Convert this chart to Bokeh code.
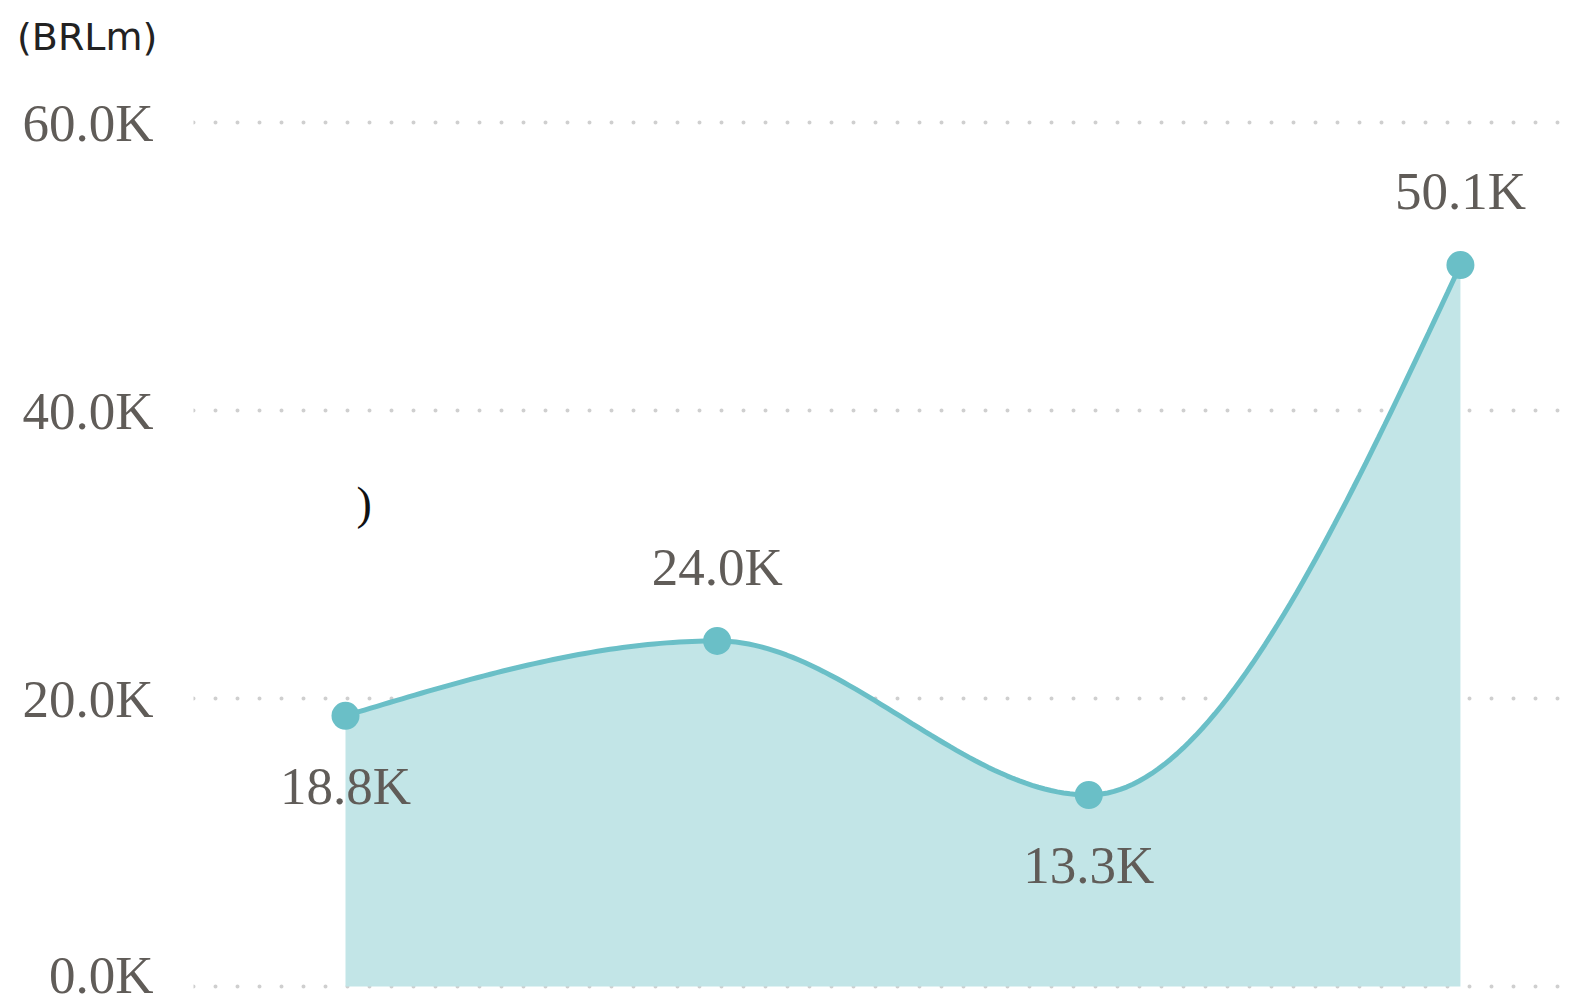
import numpy as np
from bokeh.plotting import figure
from bokeh.models import FixedTicker, Label, Range1d, Div
from bokeh.layouts import column
from bokeh.core.properties import value
from bokeh.embed import file_html
from bokeh.resources import INLINE

# ---- data ----
x_idx = [0, 1, 2, 3]
values_k = [18.8, 24.0, 13.3, 50.1]
point_labels = ["18.8K", "24.0K", "13.3K", "50.1K"]
label_above = [False, True, False, True]
y_ticks = [0, 20, 40, 60]
y_tick_labels = ["0.0K", "20.0K", "40.0K", "60.0K"]
unit_title = "(BRLm)"

LINE = "#6abfc7"
FILL = "#c2e5e7"
TXT = "#605c58"
SERIF = "Liberation Serif"


def monotone_curve(xs, ys, n=60):
    xs = np.asarray(xs, float)
    ys = np.asarray(ys, float)
    m = len(xs)
    t = np.zeros(m)
    for i in range(1, m - 1):
        h0 = xs[i] - xs[i - 1]
        h1 = xs[i + 1] - xs[i]
        s0 = (ys[i] - ys[i - 1]) / h0
        s1 = (ys[i + 1] - ys[i]) / h1
        p = (s0 * h1 + s1 * h0) / (h0 + h1)
        t[i] = (np.sign(s0) + np.sign(s1)) * min(abs(s0), abs(s1), 0.5 * abs(p))
    h = xs[1] - xs[0]
    t[0] = (3 * (ys[1] - ys[0]) / h - t[1]) / 2
    h = xs[-1] - xs[-2]
    t[-1] = (3 * (ys[-1] - ys[-2]) / h - t[-2]) / 2
    cx, cy = [], []
    for i in range(m - 1):
        x0, x1 = xs[i], xs[i + 1]
        y0, y1 = ys[i], ys[i + 1]
        dx = (x1 - x0) / 3
        P = np.array([[x0, y0], [x0 + dx, y0 + dx * t[i]],
                      [x1 - dx, y1 - dx * t[i + 1]], [x1, y1]])
        u = np.linspace(0, 1, n)[:, None]
        B = ((1 - u) ** 3) * P[0] + 3 * ((1 - u) ** 2) * u * P[1] \
            + 3 * (1 - u) * u ** 2 * P[2] + u ** 3 * P[3]
        if i > 0:
            B = B[1:]
        cx.extend(B[:, 0])
        cy.extend(B[:, 1])
    return np.array(cx), np.array(cy)


header = Div(text=unit_title, width=1577, height=80, margin=0,
             styles={"font-family": "DejaVu Sans", "font-size": "38px",
                     "color": "#222222", "padding-top": "15px",
                     "padding-left": "17px", "line-height": "normal",
                     "box-sizing": "border-box"})

PX_PER_K = 14.4
p = figure(width=1577, height=923, output_backend="svg", toolbar_location=None,
           x_range=Range1d(-0.409, 3.315),
           y_range=Range1d(-17 / PX_PER_K, 60.0 + 22 / PX_PER_K),
           min_border_left=193, min_border_right=0, min_border_top=20,
           min_border_bottom=0, margin=0)
p.outline_line_color = None
p.background_fill_color = "white"
p.border_fill_color = "white"

p.xaxis.visible = False
p.xgrid.visible = False

ax = p.yaxis[0]
ax.ticker = FixedTicker(ticks=y_ticks)
ax.major_label_overrides = {t: l for t, l in zip(y_ticks, y_tick_labels)}
ax.axis_line_color = None
ax.major_tick_line_color = None
ax.minor_tick_line_color = None
ax.major_label_text_font = SERIF
ax.major_label_text_font_size = "53px"
ax.major_label_text_color = TXT
ax.major_label_standoff = 34

g = p.ygrid[0]
g.ticker = FixedTicker(ticks=y_ticks)
g.grid_line_color = "#cfcfcf"
g.grid_line_width = 4
g.grid_line_dash = "0 22"
g.grid_line_cap = "round"

cx, cy = monotone_curve(x_idx, values_k)
p.varea(x=cx, y1=np.zeros_like(cy), y2=cy, fill_color=FILL)
p.line(cx, cy, line_color=LINE, line_width=5)
p.scatter(x_idx, values_k, size=28, fill_color=LINE, line_color=None)

xa = [x for x, a in zip(x_idx, label_above) if a]
ya = [v for v, a in zip(values_k, label_above) if a]
la = [l for l, a in zip(point_labels, label_above) if a]
xb = [x for x, a in zip(x_idx, label_above) if not a]
yb = [v for v, a in zip(values_k, label_above) if not a]
lb = [l for l, a in zip(point_labels, label_above) if not a]

p.text(xa, ya, text=la, text_font=value(SERIF), text_font_size="53px",
       text_color=TXT, text_align="center", text_baseline="alphabetic",
       y_offset=-74)
p.text(xb, yb, text=lb, text_font=value(SERIF), text_font_size="53px",
       text_color=TXT, text_align="center", text_baseline="alphabetic",
       y_offset=70)

stray = Label(x=163, y=500, x_units="screen", y_units="screen",
              text=")", text_font=SERIF, text_font_size="46px",
              text_color="#111111", text_baseline="alphabetic")
p.add_layout(stray)

layout = column(header, p, spacing=0, margin=0)
open("out.html", "w").write(file_html(layout, INLINE))
